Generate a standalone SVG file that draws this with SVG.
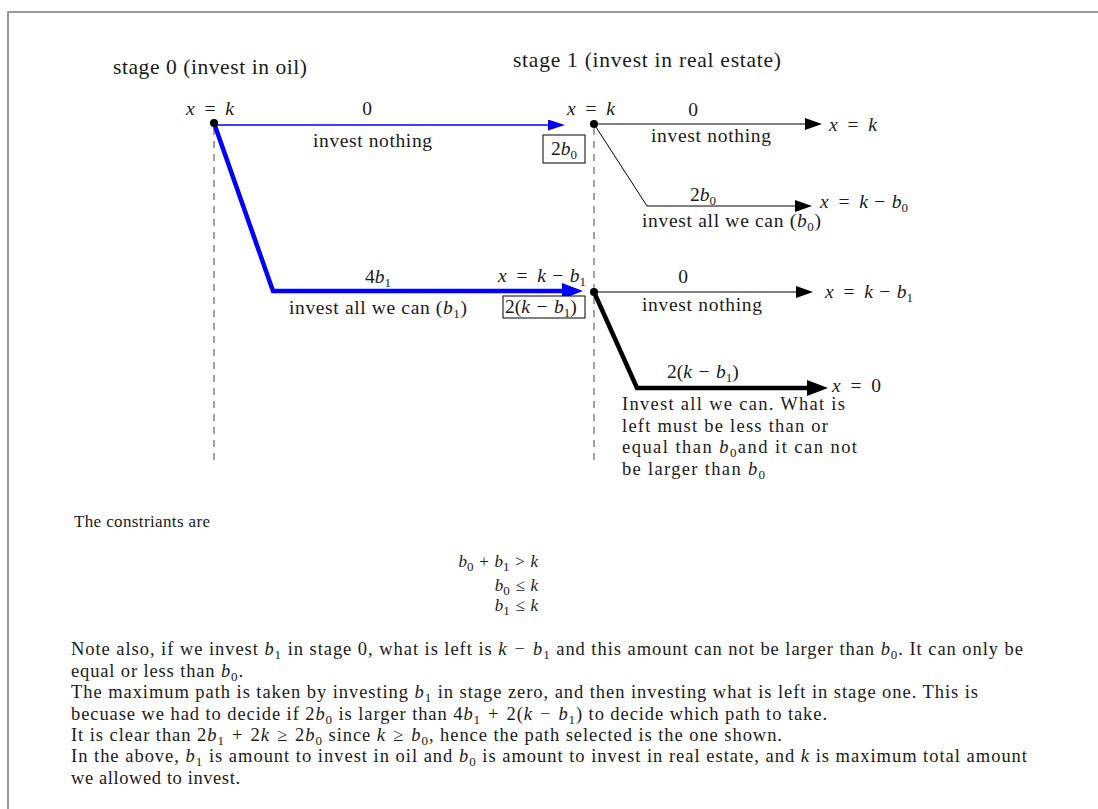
<svg xmlns="http://www.w3.org/2000/svg" width="1098" height="809" viewBox="0 0 1098 809">
<style>
.t{font-family:"Liberation Serif","Times New Roman",serif;font-size:19.5px;fill:#1a1a1a}
.p{font-size:18.5px}
.c{font-size:17px}
.h{font-size:21.5px}
.i{font-style:italic}
.sb{font-size:13px}
.dash{stroke:#666;stroke-width:1.2;stroke-dasharray:7,6;fill:none}
.thin{stroke:#000;stroke-width:1;fill:none}
.thick{stroke:#000;stroke-width:4.5;fill:none}
.bthin{stroke:#0000ff;stroke-width:1.3;fill:none}
.bthick{stroke:#0000ff;stroke-width:4.5;fill:none}
.box{fill:#fff;stroke:#000;stroke-width:1}
.frame{stroke:#777;stroke-width:1.5;fill:none}
</style>
<defs>
<marker id="ak" markerUnits="userSpaceOnUse" markerWidth="18" markerHeight="12" refX="2" refY="6" orient="auto"><path d="M0,0 L17,6 L0,12 Z" fill="#000"/></marker>
<marker id="akT" markerUnits="userSpaceOnUse" markerWidth="22" markerHeight="16" refX="3" refY="8" orient="auto"><path d="M0,0 L21,8 L0,16 Z" fill="#000"/></marker>
<marker id="ab" markerUnits="userSpaceOnUse" markerWidth="18" markerHeight="12" refX="2" refY="5.5" orient="auto"><path d="M0,0 L17,5.5 L0,11 Z" fill="#0000ff"/></marker>
<marker id="abT" markerUnits="userSpaceOnUse" markerWidth="22" markerHeight="16" refX="3" refY="8" orient="auto"><path d="M0,0 L21,8 L0,16 Z" fill="#0000ff"/></marker>
</defs>
<rect width="1098" height="809" fill="#fff"/>
<path class="frame" d="M8,809 V12 H1098"/>

<g id="headers">
<text class="t h" x="113" y="74" textLength="194" lengthAdjust="spacing">stage 0 (invest in oil)</text>
<text class="t h" x="513" y="67" textLength="268" lengthAdjust="spacing">stage 1 (invest in real estate)</text>
</g>

<g id="guides">
<line class="dash" x1="214" y1="128" x2="214" y2="466"/>
<line class="dash" x1="594" y1="128" x2="594" y2="466"/>
</g>

<g id="connectors">
<path class="bthin" d="M214,125 H550" marker-end="url(#ab)"/>
<path class="bthick" d="M214,123 L273,291 H565" marker-end="url(#abT)"/>
<path class="thin" d="M594,124 H807" marker-end="url(#ak)"/>
<path class="thin" d="M594,124 L647,206 H797" marker-end="url(#ak)"/>
<path class="thin" d="M594,292 H798" marker-end="url(#ak)"/>
<path class="thick" d="M594,292 L637,388 H810" marker-end="url(#akT)"/>
</g>

<g id="edge-labels">
<text class="t" x="367" y="115" text-anchor="middle">0</text>
<text class="t" x="313" y="147" textLength="119" lengthAdjust="spacing">invest nothing</text>
<text class="t" x="365" y="283">4<tspan class="i">b</tspan><tspan class="sb" dy="4">1</tspan></text>
<text class="t" x="289" y="314" textLength="178" lengthAdjust="spacing">invest all we can (<tspan class="i">b</tspan><tspan class="sb" dy="4">1</tspan><tspan dy="-4">)</tspan></text>
<text class="t" x="693" y="116" text-anchor="middle">0</text>
<text class="t" x="651" y="142" textLength="120" lengthAdjust="spacing">invest nothing</text>
<text class="t" x="690" y="201">2<tspan class="i">b</tspan><tspan class="sb" dy="4">0</tspan></text>
<text class="t" x="642" y="227" textLength="179" lengthAdjust="spacing">invest all we can (<tspan class="i">b</tspan><tspan class="sb" dy="4">0</tspan><tspan dy="-4">)</tspan></text>
<text class="t" x="683" y="283" text-anchor="middle">0</text>
<text class="t" x="642" y="311" textLength="120" lengthAdjust="spacing">invest nothing</text>
<text class="t" x="667" y="378">2(<tspan class="i">k</tspan>&#8196;−&#8196;<tspan class="i">b</tspan><tspan class="sb" dy="4">1</tspan><tspan dy="-4">)</tspan></text>
</g>

<g id="node-s0">
<circle cx="214" cy="123" r="4" fill="#000"/>
<text class="t" x="186" y="115"><tspan class="i">x</tspan>&#8194;=&#8194;<tspan class="i">k</tspan></text>
</g>

<g id="node-s1-k">
<circle cx="594" cy="124" r="4" fill="#000"/>
<text class="t" x="567" y="115"><tspan class="i">x</tspan>&#8194;=&#8194;<tspan class="i">k</tspan></text>
<rect class="box" x="543" y="135" width="42" height="28"/>
<text class="t" x="564" y="155" text-anchor="middle">2<tspan class="i">b</tspan><tspan class="sb" dy="4">0</tspan></text>
</g>

<g id="node-s1-kb1">
<circle cx="594" cy="292" r="4" fill="#000"/>
<text class="t" x="498" y="282"><tspan class="i">x</tspan>&#8194;=&#8194;<tspan class="i">k</tspan>&#8196;−&#8196;<tspan class="i">b</tspan><tspan class="sb" dy="4">1</tspan></text>
<rect class="box" x="503" y="296" width="82" height="22"/>
<text class="t" x="505" y="313">2(<tspan class="i">k</tspan>&#8196;−&#8196;<tspan class="i">b</tspan><tspan class="sb" dy="4">1</tspan><tspan dy="-4">)</tspan></text>
</g>

<g id="end-k">
<text class="t" x="829" y="131"><tspan class="i">x</tspan>&#8194;=&#8194;<tspan class="i">k</tspan></text>
</g>
<g id="end-kb0">
<text class="t" x="820" y="208"><tspan class="i">x</tspan>&#8194;=&#8194;<tspan class="i">k</tspan>&#8196;−&#8196;<tspan class="i">b</tspan><tspan class="sb" dy="4">0</tspan></text>
</g>
<g id="end-kb1">
<text class="t" x="825" y="298"><tspan class="i">x</tspan>&#8194;=&#8194;<tspan class="i">k</tspan>&#8196;−&#8196;<tspan class="i">b</tspan><tspan class="sb" dy="4">1</tspan></text>
</g>
<g id="end-0">
<text class="t" x="832" y="392"><tspan class="i">x</tspan>&#8194;=&#8194;0</text>
</g>

<g id="note-final">
<text class="t p" x="622" y="410" textLength="223" lengthAdjust="spacing">Invest all we can. What is</text>
<text class="t p" x="622" y="432" textLength="206" lengthAdjust="spacing">left must be less than or</text>
<text class="t p" x="622" y="453" textLength="235" lengthAdjust="spacing">equal than <tspan class="i">b</tspan><tspan class="sb" dy="4">0</tspan><tspan dy="-4">and it can not</tspan></text>
<text class="t p" x="622" y="475" textLength="143" lengthAdjust="spacing">be larger than <tspan class="i">b</tspan><tspan class="sb" dy="4">0</tspan></text>
</g>

<g id="constraints">
<text class="t c" x="74" y="527" textLength="136" lengthAdjust="spacing">The constriants are</text>
<text class="t c" x="538" y="567" text-anchor="end"><tspan class="i">b</tspan><tspan class="sb" dy="4">0</tspan><tspan dy="-4">&#8196;+&#8196;</tspan><tspan class="i">b</tspan><tspan class="sb" dy="4">1</tspan><tspan dy="-4">&#8196;&gt;&#8196;</tspan><tspan class="i">k</tspan></text>
<text class="t c" x="538" y="591" text-anchor="end"><tspan class="i">b</tspan><tspan class="sb" dy="4">0</tspan><tspan dy="-4">&#8196;≤&#8196;</tspan><tspan class="i">k</tspan></text>
<text class="t c" x="538" y="611" text-anchor="end"><tspan class="i">b</tspan><tspan class="sb" dy="4">1</tspan><tspan dy="-4">&#8196;≤&#8196;</tspan><tspan class="i">k</tspan></text>
</g>

<g id="paragraph">
<text class="t p" x="71" y="655" textLength="952" lengthAdjust="spacing">Note also, if we invest <tspan class="i">b</tspan><tspan class="sb" dy="4">1</tspan><tspan dy="-4"> in stage 0, what is left is </tspan><tspan class="i">k</tspan>&#8196;−&#8196;<tspan class="i">b</tspan><tspan class="sb" dy="4">1</tspan><tspan dy="-4"> and this amount can not be larger than </tspan><tspan class="i">b</tspan><tspan class="sb" dy="4">0</tspan><tspan dy="-4">. It can only be</tspan></text>
<text class="t p" x="71" y="677" textLength="172" lengthAdjust="spacing">equal or less than <tspan class="i">b</tspan><tspan class="sb" dy="4">0</tspan><tspan dy="-4">.</tspan></text>
<text class="t p" x="71" y="698" textLength="907" lengthAdjust="spacing">The maximum path is taken by investing <tspan class="i">b</tspan><tspan class="sb" dy="4">1</tspan><tspan dy="-4"> in stage zero, and then investing what is left in stage one. This is</tspan></text>
<text class="t p" x="71" y="720" textLength="756" lengthAdjust="spacing">becuase we had to decide if 2<tspan class="i">b</tspan><tspan class="sb" dy="4">0</tspan><tspan dy="-4"> is larger than 4</tspan><tspan class="i">b</tspan><tspan class="sb" dy="4">1</tspan><tspan dy="-4">&#8196;+&#8196;2(</tspan><tspan class="i">k</tspan>&#8196;−&#8196;<tspan class="i">b</tspan><tspan class="sb" dy="4">1</tspan><tspan dy="-4">) to decide which path to take.</tspan></text>
<text class="t p" x="71" y="741" textLength="711" lengthAdjust="spacing">It is clear than 2<tspan class="i">b</tspan><tspan class="sb" dy="4">1</tspan><tspan dy="-4">&#8196;+&#8196;2</tspan><tspan class="i">k</tspan>&#8196;≥&#8196;2<tspan class="i">b</tspan><tspan class="sb" dy="4">0</tspan><tspan dy="-4"> since </tspan><tspan class="i">k</tspan>&#8196;≥&#8196;<tspan class="i">b</tspan><tspan class="sb" dy="4">0</tspan><tspan dy="-4">, hence the path selected is the one shown.</tspan></text>
<text class="t p" x="71" y="762" textLength="956" lengthAdjust="spacing">In the above, <tspan class="i">b</tspan><tspan class="sb" dy="4">1</tspan><tspan dy="-4"> is amount to invest in oil and </tspan><tspan class="i">b</tspan><tspan class="sb" dy="4">0</tspan><tspan dy="-4"> is amount to invest in real estate, and </tspan><tspan class="i">k</tspan> is maximum total amount</text>
<text class="t p" x="71" y="784" textLength="169" lengthAdjust="spacing">we allowed to invest.</text>
</g>
</svg>
